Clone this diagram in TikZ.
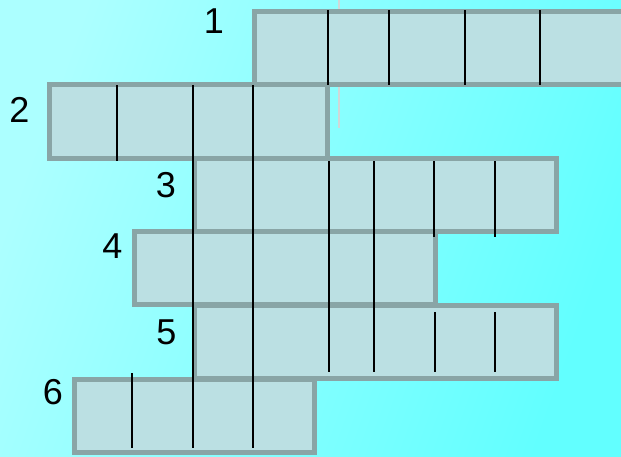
\documentclass[tikz,border=0pt]{standalone}
\usepackage{fontspec}
\setmainfont{Liberation Sans}
\usepackage{tikz}
\definecolor{bgleft}{RGB}{172,255,255}
\definecolor{bgright}{RGB}{98,255,255}
\definecolor{cellfill}{RGB}{187,224,227}
\definecolor{cellrim}{RGB}{137,165,166}
\definecolor{guidegray}{RGB}{208,216,216}

\begin{document}
\begin{tikzpicture}[x=1pt,y=-1pt,
  wordrow/.style={fill=cellfill,draw=cellrim,line width=5pt},
  divider/.style={black,line width=2pt},
  guide/.style={guidegray,line width=2pt},
  numlabel/.style={font=\fontsize{36}{40}\selectfont,inner sep=0pt}]
% Background
\useasboundingbox (0,0) rectangle (621,456);
\shade[top color=bgleft,bottom color=bgright,shading angle=70] (0,0) rectangle (621,456);
\clip (0,0) rectangle (621,456);
% Faint guide line
\draw[guide] (338.5,0) -- (338.5,128);
% Word rows
\draw[wordrow] (254.5,11.5) rectangle (640,84.5);
\draw[wordrow] (49.5,84.5) rectangle (327.5,158.5);
\draw[wordrow] (194.5,158.5) rectangle (556.5,231.5);
\draw[wordrow] (134.5,231.5) rectangle (435.5,304.5);
\draw[wordrow] (194.5,305.5) rectangle (556.5,378.5);
\draw[wordrow] (74.5,379.5) rectangle (314.5,452.5);
% Cell dividers
\foreach \x in {328,389,465,540}
  \draw[divider] (\x,10) -- (\x,85);
\draw[divider] (117,85) -- (117,161);
\foreach \x in {193,253}
  \draw[divider] (\x,85) -- (\x,448);
\foreach \x in {329,374}
  \draw[divider] (\x,161) -- (\x,372);
\foreach \x in {434,495}
  \draw[divider] (\x,161) -- (\x,237);
\foreach \x in {435,495}
  \draw[divider] (\x,312) -- (\x,372);
\draw[divider] (132,373) -- (132,448);
% Row numbers
\node[numlabel] (num1) at (214,21) {1};
\node[numlabel] (num2) at (19.5,110) {2};
\node[numlabel] (num3) at (166,185) {3};
\node[numlabel] (num4) at (112.5,246.5) {4};
\node[numlabel] (num5) at (166.5,332.5) {5};
\node[numlabel] (num6) at (53,392) {6};
\end{tikzpicture}
\end{document}
